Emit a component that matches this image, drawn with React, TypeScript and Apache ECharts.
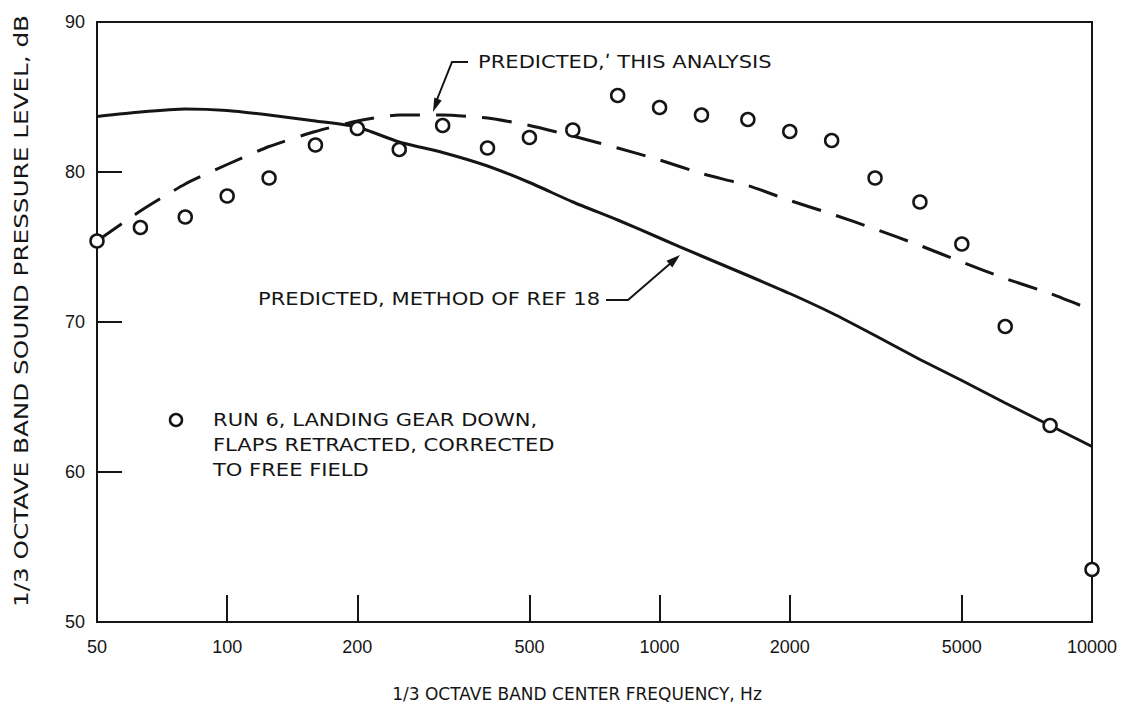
import React, { useEffect, useRef } from "react";
import * as echarts from "echarts";

const freqs = [50, 63, 80, 100, 125, 160, 200, 250, 315, 400, 500, 630, 800, 1000, 1250, 1600, 2000, 2500, 3150, 4000, 5000, 6300, 8000, 10000];
const measured = [75.4, 76.3, 77.0, 78.4, 79.6, 81.8, 82.9, 81.5, 83.1, 81.6, 82.3, 82.8, 85.1, 84.3, 83.8, 83.5, 82.7, 82.1, 79.6, 78.0, 75.2, 69.7, 63.1, 53.5];
const ref18 = [83.7, 84.0, 84.2, 84.1, 83.8, 83.4, 83.0, 82.0, 81.3, 80.4, 79.3, 78.0, 76.8, 75.6, 74.4, 73.1, 71.9, 70.6, 69.1, 67.5, 66.1, 64.6, 63.1, 61.7];
const thisAnalysis = [75.4, 77.4, 79.2, 80.5, 81.7, 82.7, 83.4, 83.8, 83.8, 83.6, 83.1, 82.4, 81.6, 80.8, 79.9, 79.1, 78.1, 77.2, 76.2, 75.1, 74.0, 72.9, 71.9, 70.8];
const xTickValues = [50, 100, 200, 500, 1000, 2000, 5000, 10000];
const yTicks = { min: 50, max: 90, interval: 10 };

const INK = "#151515";
const FONT = "Liberation Sans";
const ANN_FONT = "DejaVu Sans";

export default function App() {
  const ref = useRef<HTMLDivElement>(null);
  useEffect(() => {
    if (!ref.current) return;
    const chart = echarts.init(ref.current, null, { renderer: "svg" });
    const lg = (f: number) => Math.log10(f);
    const toPts = (ys: number[]) => freqs.map((f, i) => [lg(f), ys[i]]);
    const logTicks = xTickValues.map(lg);
    const annText = (text: string, x: number, y: number) => ({
      type: "text",
      x,
      y,
      scaleX: 1.24,
      style: { text, fill: INK, fontSize: 17, fontFamily: ANN_FONT, verticalAlign: "middle" },
    });
    chart.setOption({
      animation: false,
      backgroundColor: "#fff",
      grid: { left: 97, right: 37, top: 22, bottom: 91, show: true, borderColor: INK, borderWidth: 2 },
      xAxis: {
        type: "value",
        min: lg(50),
        max: 4,
        axisLine: { show: true, lineStyle: { color: INK, width: 2 } },
        axisTick: { show: true, inside: true, length: 27, customValues: logTicks, lineStyle: { color: INK, width: 2 } },
        axisLabel: {
          customValues: logTicks,
          formatter: (v: number) => String(Math.round(Math.pow(10, v))),
          fontFamily: FONT,
          fontSize: 18,
          color: INK,
          margin: 16,
        },
        splitLine: { show: false },
      },
      yAxis: {
        type: "value",
        min: yTicks.min,
        max: yTicks.max,
        interval: yTicks.interval,
        axisLine: { show: true, lineStyle: { color: INK, width: 2 } },
        axisTick: { show: true, inside: true, length: 25, lineStyle: { color: INK, width: 2 } },
        axisLabel: { fontFamily: FONT, fontSize: 18, color: INK, margin: 12 },
        splitLine: { show: false },
      },
      series: [
        {
          name: "Predicted, method of Ref 18",
          type: "line",
          data: toPts(ref18),
          smooth: 0.2,
          symbol: "none",
          lineStyle: { color: INK, width: 3 },
          z: 2,
        },
        {
          name: "Predicted, this analysis",
          type: "line",
          data: toPts(thisAnalysis),
          smooth: 0.2,
          symbol: "none",
          lineStyle: { color: INK, width: 3, type: [30, 16] },
          z: 2,
        },
        {
          name: "Run 6",
          type: "scatter",
          data: toPts(measured),
          symbol: "circle",
          symbolSize: 13,
          itemStyle: { color: "#fff", borderColor: INK, borderWidth: 2.5, opacity: 1 },
          z: 5,
        },
      ],
      graphic: [
        {
          type: "text",
          x: 22,
          y: 311,
          rotation: Math.PI / 2,
          scaleX: 1.3,
          style: {
            text: "1/3 OCTAVE BAND SOUND PRESSURE LEVEL, dB",
            fill: INK,
            fontSize: 19,
            fontFamily: ANN_FONT,
            align: "center",
            verticalAlign: "middle",
          },
        },
        {
          type: "text",
          x: 577,
          y: 694,
          style: {
            text: "1/3 OCTAVE BAND CENTER FREQUENCY, Hz",
            fill: INK,
            fontSize: 17,
            fontFamily: ANN_FONT,
            align: "center",
            verticalAlign: "middle",
          },
        },
        annText("PREDICTED,ʹ THIS ANALYSIS", 478, 62),
        { type: "polyline", shape: { points: [[468, 62], [452, 62], [436, 102]] }, style: { stroke: INK, lineWidth: 2, fill: "none" } },
        { type: "polygon", shape: { points: [[433, 112], [441.7, 100.4], [434.3, 97.6]] }, style: { fill: INK } },
        annText("PREDICTED, METHOD OF REF 18", 258, 299),
        { type: "polyline", shape: { points: [[606, 300], [628, 300], [672, 262]] }, style: { stroke: INK, lineWidth: 2, fill: "none" } },
        { type: "polygon", shape: { points: [[680, 255], [672.3, 267.6], [666.5, 260.8]] }, style: { fill: INK } },
        { type: "circle", shape: { cx: 176, cy: 420, r: 6 }, style: { fill: "#fff", stroke: INK, lineWidth: 2.5 } },
        annText("RUN 6, LANDING GEAR DOWN,", 213, 420),
        annText("FLAPS RETRACTED, CORRECTED", 213, 445),
        annText("TO FREE FIELD", 213, 470),
      ],
    });
    return () => chart.dispose();
  }, []);
  return <div ref={ref} style={{ position: "fixed", left: 0, top: 0, width: 1129, height: 713 }} />;
}
